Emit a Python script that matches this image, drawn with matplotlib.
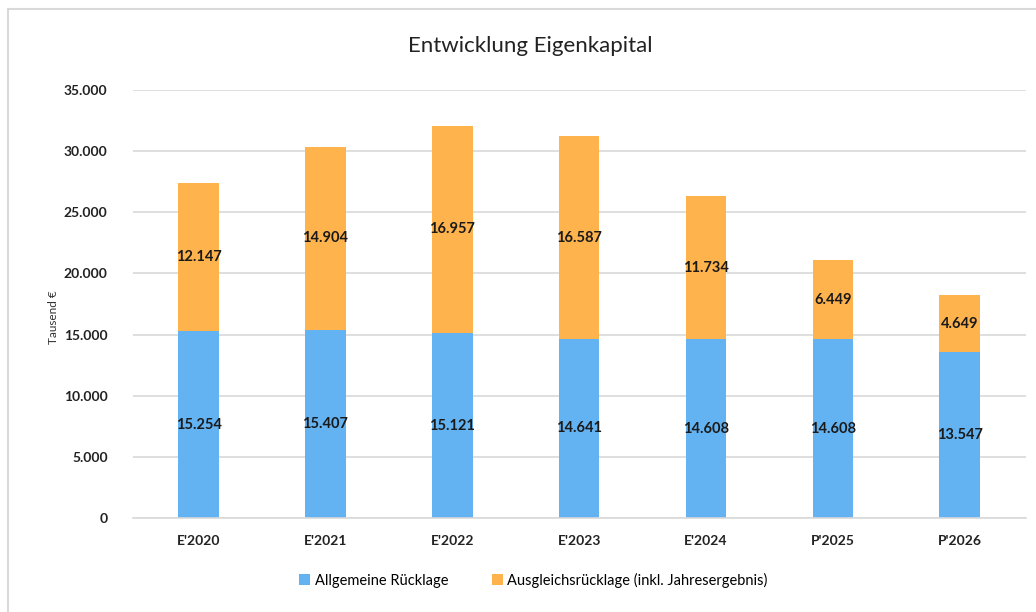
import numpy as np
from matplotlib import pyplot as plt
from matplotlib.patches import Rectangle

years = ["E'2020", "E'2021", "E'2022", "E'2023", "E'2024", "P'2025", "P'2026"]
allgemeine = [15254, 15407, 15121, 14641, 14608, 14608, 13547]
ausgleich = [12147, 14904, 16957, 16587, 11734, 6449, 4649]
yticks = [0, 5000, 10000, 15000, 20000, 25000, 30000, 35000]

BLUE = "#63B3F3"
ORANGE = "#FFB34D"


def fmt(v):
    return f"{v:,}".replace(",", ".")


plt.rcParams['font.family'] = ['Lato', 'DejaVu Sans']

fig = plt.figure(figsize=(10.36, 6.12), dpi=100)
ax = fig.add_axes([0.128, 0.1536, 0.862, 0.6994])

x = np.arange(len(years))
w = 0.32
b1 = ax.bar(x, allgemeine, w, color=BLUE, label="Allgemeine Rücklage", zorder=2)
b2 = ax.bar(x, ausgleich, w, bottom=allgemeine, color=ORANGE,
            label="Ausgleichsrücklage (inkl. Jahresergebnis)", zorder=2)

for i in range(len(years)):
    ax.text(x[i], allgemeine[i] / 2, fmt(allgemeine[i]), ha="center", va="center",
            fontsize=10.5, fontweight="bold", color="#1a1a1a", zorder=3)
    ax.text(x[i], allgemeine[i] + ausgleich[i] / 2, fmt(ausgleich[i]), ha="center",
            va="center", fontsize=10.5, fontweight="bold", color="#1a1a1a", zorder=3)

ax.set_xlim(-0.52, len(years) - 0.48)
ax.set_ylim(0, 35000)
ax.set_yticks(yticks)
ax.set_yticklabels([fmt(v) for v in yticks], fontsize=10, fontweight="bold", color="#222222")
ax.set_xticks(x)
ax.set_xticklabels(years, fontsize=10, fontweight="bold", color="#222222")
ax.tick_params(length=0, pad=12)
ax.tick_params(axis="y", pad=18)
ax.grid(axis="y", color="#D9D9D9", linewidth=1.2, zorder=0)
for s in ["top", "right", "left"]:
    ax.spines[s].set_visible(False)
ax.spines["bottom"].set_color("#D9D9D9")
ax.spines["bottom"].set_linewidth(1.2)

ax.set_ylabel("Tausend €", fontsize=8.5, color="#333333", labelpad=10)
ax.yaxis.set_label_coords(-0.082, 0.47)

fig.text(0.512, 0.925, "Entwicklung Eigenkapital", ha="center", va="center",
         fontsize=16, color="#222222")

fig.legend(handles=[b1, b2], loc="center", bbox_to_anchor=(0.515, 0.052), ncol=2,
           frameon=False, fontsize=10.5, handlelength=0.75, handleheight=0.75,
           handletextpad=0.3, columnspacing=3.0)

fig.patches.append(Rectangle((8 / 1036, -0.1), 1.2, 1.1 - 9 / 612, transform=fig.transFigure,
                             fill=False, edgecolor="#D9D9D9", linewidth=1.5))

fig.savefig("out.png", dpi=100, facecolor="white")
